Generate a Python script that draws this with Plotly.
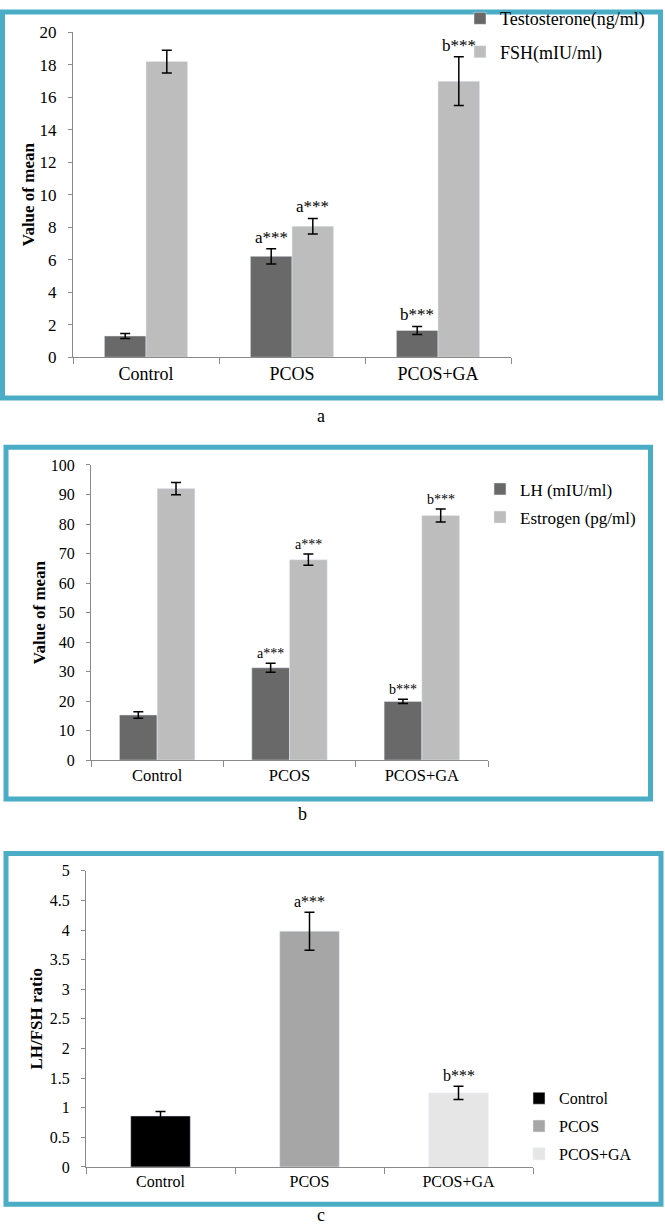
import plotly.graph_objects as go

W, H = 665, 1232
FONT = "Liberation Serif, Times New Roman, serif"

groups = ["Control", "PCOS", "PCOS+GA"]

# Panel a
testosterone = [1.31, 6.21, 1.65]
testosterone_err = [0.15, 0.47, 0.25]
fsh = [18.19, 8.06, 16.98]
fsh_err = [0.70, 0.48, 1.50]
testosterone_sig = ["", "a***", "b***"]
fsh_sig = ["", "a***", "b***"]

# Panel b
lh = [15.3, 31.3, 19.9]
lh_err = [1.1, 1.5, 0.7]
estrogen = [92.0, 67.9, 82.9]
estrogen_err = [2.1, 1.9, 2.2]
lh_sig = ["", "a***", "b***"]
estrogen_sig = ["", "a***", "b***"]

# Panel c
ratio = [0.86, 3.98, 1.25]
ratio_err = [0.075, 0.32, 0.11]
ratio_sig = ["", "a***", "b***"]

DARK = "#696969"
LIGHT = "#bdbdbd"
C_COLORS = ["#000000", "#a6a6a6", "#e6e6e6"]
TEAL = "#4bacc6"
AXC = "#8a8a8a"

def px_x(p):
    return p / W

def px_y(p):
    return 1 - p / H

BARGAP = 0.43
OFF = (1 - BARGAP) / 4

fig = go.Figure()

def err(arr):
    return dict(type="data", array=arr, color="black", thickness=1.5, width=5)

# panel a
fig.add_trace(go.Bar(x=groups, y=testosterone, error_y=err(testosterone_err),
                     marker_color=DARK, name="Testosterone(ng/ml)",
                     xaxis="x", yaxis="y", legend="legend", legendgroup="t"))
fig.add_trace(go.Bar(x=groups, y=fsh, error_y=err(fsh_err),
                     marker_color=LIGHT, name="FSH(mIU/ml)",
                     xaxis="x", yaxis="y", legend="legend", legendgroup="f"))
# panel b
fig.add_trace(go.Bar(x=groups, y=lh, error_y=err(lh_err),
                     marker_color=DARK, name="LH (mIU/ml)",
                     xaxis="x2", yaxis="y2", legend="legend2", legendgroup="l"))
fig.add_trace(go.Bar(x=groups, y=estrogen, error_y=err(estrogen_err),
                     marker_color=LIGHT, name="Estrogen (pg/ml)",
                     xaxis="x2", yaxis="y2", legend="legend2", legendgroup="e"))
# panel c
for i, g in enumerate(groups):
    fig.add_trace(go.Bar(x=[g], y=[ratio[i]], error_y=err([ratio_err[i]]),
                         marker_color=C_COLORS[i], name=g, width=0.4, offset=-0.2,
                         xaxis="x3", yaxis="y3", legend="legend3", legendgroup="c%d" % i))

annotations = []

def sig(xref, yref, vals, errs, labels, dx, size):
    for i, (v, e, t) in enumerate(zip(vals, errs, labels)):
        if t:
            annotations.append(dict(x=i + dx, y=v + e, xref=xref, yref=yref, text=t,
                                    showarrow=False, yanchor="bottom",
                                    font=dict(family=FONT, size=size, color="black")))

sig("x", "y", testosterone, testosterone_err, testosterone_sig, -OFF, 17)
sig("x", "y", fsh, fsh_err, fsh_sig, OFF, 17)
sig("x2", "y2", lh, lh_err, lh_sig, -OFF, 14)
sig("x2", "y2", estrogen, estrogen_err, estrogen_sig, OFF, 14)
sig("x3", "y3", ratio, ratio_err, ratio_sig, 0, 16)

for txt, xx, yy in [("a", 321, 413), ("b", 302, 817), ("c", 321, 1225)]:
    annotations.append(dict(x=px_x(xx), y=px_y(yy), xref="paper", yref="paper", text=txt,
                            showarrow=False, xanchor="center", yanchor="middle",
                            font=dict(family=FONT, size=18, color="black")))

shapes = []
for x0, y0, x1, y1 in [(2.5, 2.0, 660.5, 394.5), (6, 444.5, 650.5, 802), (6, 857.5, 661, 1214)]:
    shapes.append(dict(type="rect", xref="paper", yref="paper",
                       x0=px_x(x0), x1=px_x(x1), y0=px_y(y1), y1=px_y(y0),
                       line=dict(color=TEAL, width=5), fillcolor="rgba(0,0,0,0)"))

def xax(domain, anchor, size):
    return dict(domain=domain, anchor=anchor, type="category", categoryarray=groups,
                showline=True, linecolor=AXC, linewidth=1, ticks="outside",
                tickson="boundaries", ticklen=6, tickcolor=AXC, showgrid=False,
                tickfont=dict(family=FONT, size=size, color="black"))

def yax(domain, anchor, rng, dtick, title, size, standoff):
    return dict(domain=domain, anchor=anchor, range=rng, dtick=dtick,
                showline=True, linecolor=AXC, linewidth=1, ticks="outside",
                ticklen=4, tickcolor=AXC, showgrid=False, zeroline=False,
                ticklabelstandoff=8,
                tickfont=dict(family=FONT, size=size, color="black"),
                title=dict(text="<b>%s</b>" % title, standoff=standoff,
                           font=dict(family=FONT, size=17, color="black")))

fig.update_layout(
    width=W, height=H,
    margin=dict(l=0, r=0, t=0, b=0),
    paper_bgcolor="white", plot_bgcolor="white",
    barmode="group", bargap=BARGAP, bargroupgap=0,
    font=dict(family=FONT, color="black"),
    xaxis=xax([px_x(73), px_x(511)], "y", 18),
    yaxis=yax([px_y(353), px_y(22.5)], "x", [0, 20], 2, "Value of mean", 17, 0),
    xaxis2=xax([px_x(91), px_x(488)], "y2", 16.5),
    yaxis2=yax([px_y(762.5), px_y(462.5)], "x2", [0, 100], 10, "Value of mean", 16, 0),
    xaxis3=xax([px_x(86), px_x(533)], "y3", 16),
    yaxis3=yax([px_y(1176), px_y(875)], "x3", [0, 5], 0.5, "LH/FSH ratio", 16, 2),
    legend=dict(x=px_x(460), y=px_y(-10), xanchor="left", yanchor="top",
                traceorder="grouped", tracegroupgap=7, bgcolor="rgba(0,0,0,0)",
                font=dict(family=FONT, size=18, color="black")),
    legend2=dict(x=px_x(480), y=px_y(469), xanchor="left", yanchor="top",
                 traceorder="grouped", tracegroupgap=3, bgcolor="rgba(0,0,0,0)",
                 font=dict(family=FONT, size=17, color="black")),
    legend3=dict(x=px_x(519), y=px_y(1089), xanchor="left", yanchor="top",
                 traceorder="grouped", tracegroupgap=4, bgcolor="rgba(0,0,0,0)",
                 font=dict(family=FONT, size=16, color="black")),
    annotations=annotations,
    shapes=shapes,
)

fig.write_html("out.html", config={"displayModeBar": False},
               post_script="document.body.style.margin='0';")
